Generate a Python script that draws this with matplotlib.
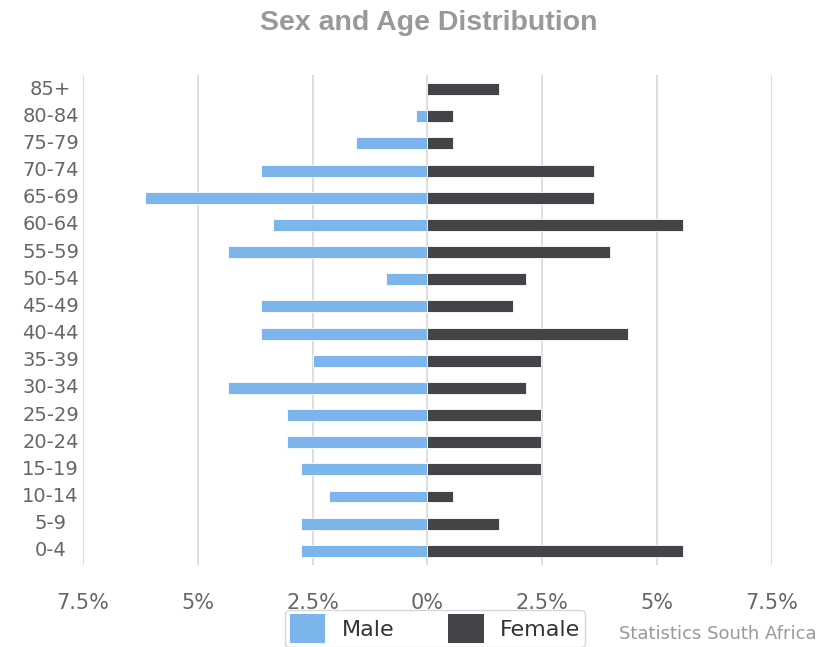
import matplotlib
matplotlib.use("Agg")
import matplotlib.pyplot as plt
from matplotlib.patches import Patch
from matplotlib.ticker import FuncFormatter

# age bands, top to bottom
AGE_GROUPS = ["85+", "80-84", "75-79", "70-74", "65-69", "60-64", "55-59", "50-54", "45-49",
              "40-44", "35-39", "30-34", "25-29", "20-24", "15-19", "10-14", "5-9", "0-4"]
# share of population, percent
MALE = [0.0, 0.25, 1.56, 3.63, 6.14, 3.35, 4.35, 0.89, 3.63,
        3.63, 2.48, 4.35, 3.06, 3.06, 2.76, 2.14, 2.76, 2.76]
FEMALE = [1.57, 0.55, 0.55, 3.64, 3.64, 5.57, 3.98, 2.15, 1.86,
          4.36, 2.48, 2.15, 2.48, 2.48, 2.48, 0.55, 1.57, 5.57]
XTICKS = [-7.5, -5, -2.5, 0, 2.5, 5, 7.5]

MALE_COL = "#7cb5ec"
FEMALE_COL = "#434348"
NARROW = ["Liberation Sans Narrow", "DejaVu Sans"]

fig = plt.figure(figsize=(8.21, 6.47), dpi=100)
ax = fig.add_axes([0.101, 0.127, 0.839, 0.757])

y = list(range(len(AGE_GROUPS)))
ax.barh(y, [-m for m in MALE], height=0.44, color=MALE_COL, edgecolor="white", linewidth=0.6, zorder=3)
ax.barh(y, FEMALE, height=0.44, color=FEMALE_COL, edgecolor="white", linewidth=0.6, zorder=3)

ax.set_xlim(-7.5, 7.5)
ax.set_ylim(len(AGE_GROUPS) - 0.485, -0.515)
ax.set_xticks(XTICKS)
ax.xaxis.set_major_formatter(FuncFormatter(lambda v, p: "%g%%" % abs(v)))
ax.grid(axis="x", color="#d8d8d8", linewidth=1.2, zorder=0)
for s in ax.spines.values():
    s.set_visible(False)

ax.tick_params(axis="x", length=0, pad=20, labelsize=15, labelcolor="#666666")
ax.tick_params(axis="y", length=0, pad=0)
ax.set_yticks(y)
ax.set_yticklabels([])
for i, lab in enumerate(AGE_GROUPS):
    ax.text(-0.047, i, lab, transform=ax.get_yaxis_transform(), ha="center", va="center",
            fontsize=14, color="#666666", family=NARROW)
for t in ax.get_xticklabels():
    t.set_family(NARROW)

fig.text(0.522, 0.965, "Sex and Age Distribution", ha="center", va="center",
         fontsize=20.5, fontweight="bold", color="#999999", family="Liberation Sans")

handles = [Patch(facecolor=MALE_COL, label="Male"), Patch(facecolor=FEMALE_COL, label="Female")]
leg = fig.legend(handles=handles, loc="upper center", bbox_to_anchor=(0.53, 0.068), ncol=2,
                 frameon=True, fancybox=True, edgecolor="#cccccc",
                 handlelength=1.6, handleheight=1.6, columnspacing=2.4, handletextpad=0.75,
                 borderpad=0.2, borderaxespad=0.3, prop={"family": NARROW, "size": 16})
for t in leg.get_texts():
    t.set_color("#333333")

fig.text(0.995, 0.02, "Statistics South Africa", ha="right", va="center",
         fontsize=13, color="#999999", family=NARROW)

fig.savefig("out.png", dpi=100, facecolor="white")
